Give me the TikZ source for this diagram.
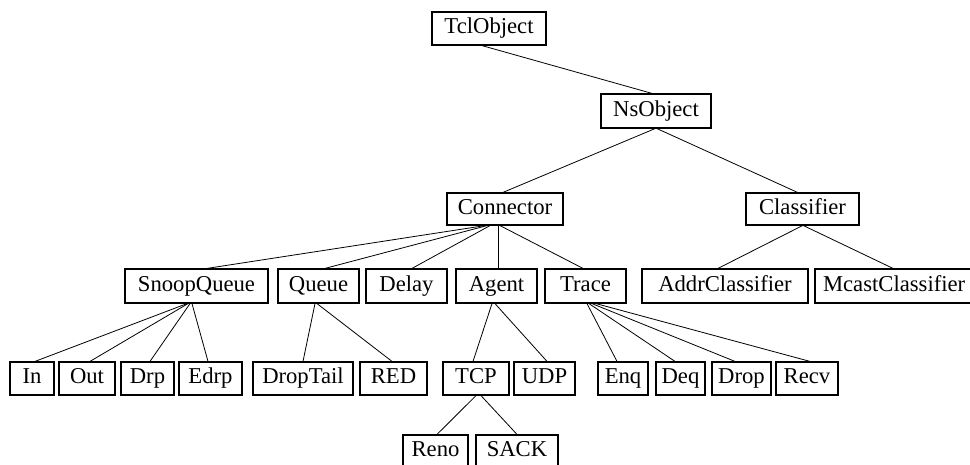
\documentclass[tikz,border=0pt]{standalone}
\usepackage{fontspec}
\setmainfont{Liberation Serif}
\begin{document}
\begin{tikzpicture}[x=0.75pt,y=-0.75pt,
  cls/.style={draw, line width=0.9pt, rectangle, inner sep=0pt,
    minimum height=24.75pt, text height=11.5pt, text depth=3.5pt,
    font=\fontsize{17}{20}\selectfont},
  bw/.style={minimum width=#1*0.75pt},
  link/.style={line width=0.6pt}]
\useasboundingbox (0,0) rectangle (970,464);

% class hierarchy, top to bottom
\node[cls,bw=114] (tcl) at (489,28.5) {TclObject};
\node[cls,bw=110,minimum height=25.5pt] (ns) at (656,111) {NsObject};

\node[cls,bw=116,minimum height=24pt] (con) at (505,209) {Connector};
\node[cls,bw=113,minimum height=24pt] (cla) at (802.5,209) {Classifier};

\node[cls,bw=143,minimum height=25.5pt] (sq)    at (196.5,286) {SnoopQueue};
\node[cls,bw=81,minimum height=25.5pt]  (queue) at (318.5,286) {Queue};
\node[cls,bw=81,minimum height=25.5pt]  (delay) at (406.5,286) {Delay};
\node[cls,bw=81,minimum height=25.5pt]  (agent) at (496.5,286) {Agent};
\node[cls,bw=81,minimum height=25.5pt]  (trace) at (585.5,286) {Trace};
\node[cls,bw=166,minimum height=25.5pt] (addr)  at (725,286) {AddrClassifier};
% this box runs past the right edge of the page
\node[cls,minimum height=25.5pt,text width=180*0.75pt,align=left,
      inner xsep=6pt] (mcast) at (913,286) {McastClassifier};

\node[cls,bw=44]  (in)   at (32,378.5)    {In};
\node[cls,bw=56]  (out)  at (87,378.5)    {Out};
\node[cls,bw=53]  (drp)  at (147.5,378.5) {Drp};
\node[cls,bw=63]  (edrp) at (210.5,378.5) {Edrp};
\node[cls,bw=100] (dt)   at (303,378.5)   {DropTail};
\node[cls,bw=67]  (red)  at (393.5,378.5) {RED};
\node[cls,bw=66]  (tcp)  at (476,378.5)   {TCP};
\node[cls,bw=61]  (udp)  at (544.5,378.5) {UDP};
\node[cls,bw=50]  (enq)  at (623,378.5)   {Enq};
\node[cls,bw=49]  (deq)  at (680.5,378.5) {Deq};
\node[cls,bw=59]  (drop) at (741.5,378.5) {Drop};
\node[cls,bw=62]  (recv) at (807,378.5)   {Recv};

\node[cls,bw=65] (reno) at (435.5,451.5) {Reno};
\node[cls,bw=82] (sack) at (517,451.5)   {SACK};

% inheritance links
\draw[link] ([xshift=-5.25pt]tcl.south) -- ([xshift=-3pt]ns.north);
\draw[link] ([xshift=-0.75pt]ns.south) -- ([xshift=-1.5pt]con.north);
\draw[link] ([xshift=0.75pt]ns.south) -- ([xshift=-3.75pt]cla.north);

\draw[link] ([xshift=-15pt]con.south)   -- ([xshift=7.875pt]sq.north);
\draw[link] ([xshift=-13.5pt]con.south) -- ([xshift=4.875pt]queue.north);
\draw[link] ([xshift=-11.25pt]con.south) -- ([xshift=4.125pt]delay.north);
\draw[link] ([xshift=-5.25pt]con.south) -- ([xshift=1.125pt]agent.north);
\draw[link] ([xshift=-3.75pt]con.south) -- ([xshift=-1.875pt]trace.north);

\draw[link] (cla.south) -- ([xshift=-5.25pt]addr.north);
\draw[link] ([xshift=0.75pt]cla.south) -- ([xshift=-15pt]mcast.north);

\draw[link] ([xshift=-7.125pt]sq.south) -- ([xshift=2.25pt]in.north);
\draw[link] ([xshift=-6.375pt]sq.south) -- ([xshift=2.25pt]out.north);
\draw[link] ([xshift=-4.875pt]sq.south) -- ([xshift=1.875pt]drp.north);
\draw[link] ([xshift=-3.375pt]sq.south) -- ([xshift=-1.875pt]edrp.north);

\draw[link] ([xshift=-2.625pt]queue.south) -- (dt.north);
\draw[link] ([xshift=-1.125pt]queue.south) -- ([xshift=-1.125pt]red.north);

\draw[link] ([xshift=-3.375pt]agent.south) -- ([xshift=-2.25pt]tcp.north);
\draw[link] ([xshift=-1.125pt]agent.south) -- ([xshift=1.875pt]udp.north);

\draw[link] ([xshift=1.125pt]trace.south) -- ([xshift=-4.5pt]enq.north);
\draw[link] ([xshift=2.625pt]trace.south) -- ([xshift=-4.125pt]deq.north);
\draw[link] ([xshift=4.875pt]trace.south) -- ([xshift=-4.875pt]drop.north);
\draw[link] ([xshift=7.875pt]trace.south) -- ([xshift=2.25pt]recv.north);

\draw[link] (tcp.south) -- ([xshift=1.125pt]reno.north);
\draw[link] ([xshift=3.75pt]tcp.south) -- (sack.north);
\end{tikzpicture}
\end{document}
